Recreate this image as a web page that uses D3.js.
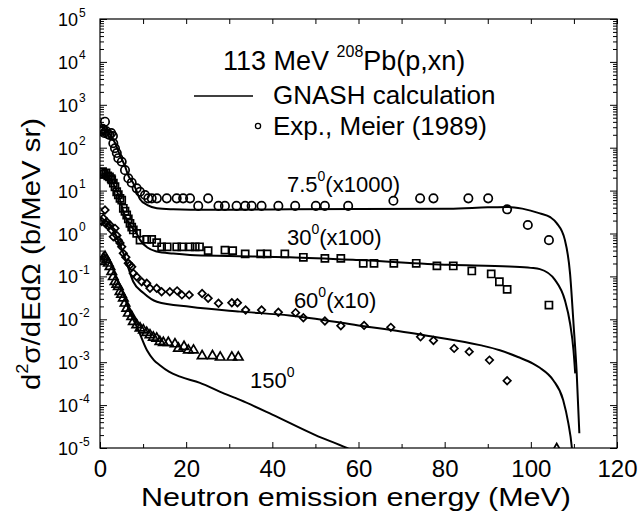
<!DOCTYPE html>
<html>
<head>
<meta charset="utf-8">
<script src="https://cdn.jsdelivr.net/npm/d3@7"></script>
<style>
  body { margin: 0; background: #fff; }
  svg text { font-family: "Liberation Sans", Arial, Helvetica, sans-serif; fill: #000; }
</style>
</head>
<body>
<svg id="chart" width="639" height="514"></svg>
<script>
// ---- Axis ticks ----
const xTicks = [0, 20, 40, 60, 80, 100, 120];
const xMinorTicks = [10, 30, 50, 70, 90, 110];
const yExponents = [-5, -4, -3, -2, -1, 0, 1, 2, 3, 4, 5];

// ---- GNASH calculation: [energy (MeV), d2sigma/dEdOmega (b/MeV sr)] ----
const calc75 = [[0.3,251],[1.5,251],[2.5,190],[3.5,129],[4.6,68],[5.8,37],[6.6,22],[7.7,15.1],[9.3,6.3],[11,4.6],[13.2,3.9],[17,3.67],[21,3.59],[30,3.59],[44,3.67],[60,3.72],[81,3.8],[90,4.07],[94.5,4.17],[98,3.8],[102.1,2.95],[104.5,2.4],[106,1.74],[107.9,0.71],[109.1,0.118],[109.9,0.0081],[110.65,5.5e-4],[111.26,2.2e-5]];
const calc30 = [[0.3,25],[1.5,24],[2.5,18.2],[3.5,12],[4.6,6.3],[5.4,3.3],[7.0,1.58],[8.5,1.0],[9.3,0.71],[11,0.47],[13.2,0.38],[17,0.34],[20.9,0.316],[30,0.30],[44,0.28],[60,0.24],[81,0.186],[95,0.17],[100,0.158],[102.1,0.148],[105.6,0.083],[107.9,0.028],[109.1,0.0081],[109.9,0.0019],[110.3,5.5e-4]];
const calc60 = [[0.3,1.78],[1.5,1.9],[2.5,1.41],[3.5,1.0],[4.6,0.56],[5.4,0.355],[6.5,0.166],[7.7,0.076],[10.1,0.041],[13.2,0.0257],[20.9,0.0195],[32.5,0.0151],[44,0.0123],[60,0.0072],[75,0.0043],[88.2,0.0025],[92.8,0.0019],[97,0.00132],[100.5,9.3e-4],[102.1,7.4e-4],[105.2,3.8e-4],[107.5,1.32e-4],[108.7,3.8e-5],[109.5,1.07e-5],[109.7,6.3e-6]];
const calc150 = [[0.3,0.25],[1.4,0.316],[2.5,0.2],[3.5,0.112],[5.3,0.041],[7,0.0141],[8.6,0.0066],[10.9,0.0019],[12.5,0.00112],[13.9,8.5e-4],[16,6.0e-4],[18.6,4.6e-4],[23.2,3.3e-4],[27.9,2.04e-4],[32.5,1.32e-4],[40,6.0e-5],[50,2.0e-5],[57.3,1.0e-5],[59,8.3e-6]];

// ---- Experimental data, Meier (1989) ----
const exp75 = [[0.3,245],[0.6,275],[0.77,259],[1.0,220],[1.16,404],[1.4,245],[1.8,208],[2.2,198],[2.6,220],[3.0,187],[3.09,127],[3.48,97],[3.9,75],[4.25,57],[5.04,47],[5.8,30],[6.57,19.4],[7.36,15.3],[8.52,11.3],[9.29,9.4],[10.45,7.9],[11.2,6.6],[12.0,6.6],[13.2,6.6],[15.5,6.6],[17.8,6.6],[19.3,6.6],[20.9,6.6],[22.8,4.4],[25.1,6.6],[27.5,4.4],[29.0,4.4],[31.7,4.4],[33.7,4.4],[35.2,4.4],[37.5,4.4],[41.4,4.4],[45.3,4.4],[50.1,4.4],[52.2,4.4],[57.6,4.4],[68.1,5.8],[74.3,6.6],[77.4,6.6],[85.5,6.6],[90.1,6.6],[94.5,3.66],[99.3,1.58],[104.2,0.70]];
const exp30 = [[0.3,25],[0.6,27.6],[1.0,24],[1.4,26],[1.8,22],[2.2,21],[2.6,19],[2.72,17.7],[3.1,15],[3.48,12.3],[3.88,9.4],[4.25,8],[4.64,6.6],[5.04,6.0],[5.41,3.87],[5.8,3.3],[6.2,2.7],[6.57,2.2],[6.96,1.73],[7.36,1.4],[7.73,1.21],[8.52,1.01],[9.29,0.705],[10.84,0.73],[12.0,0.73],[13.16,0.61],[14.3,0.49],[15.6,0.49],[17.8,0.49],[19.0,0.49],[20.9,0.49],[22.1,0.49],[23.1,0.49],[25.1,0.40],[29.0,0.41],[30.8,0.40],[33.7,0.333],[37.3,0.333],[38.8,0.333],[42.9,0.333],[47.2,0.279],[52.2,0.264],[55.9,0.264],[61.1,0.202],[63.6,0.202],[68.2,0.202],[73.4,0.202],[78.2,0.177],[82.0,0.175],[86.3,0.134],[90.8,0.114],[92.7,0.075],[94.5,0.050],[104.2,0.0215]];
const exp60 = [[0.4,1.9],[0.77,2.26],[1.16,3.53],[1.3,1.7],[1.55,1.88],[1.9,1.5],[2.32,1.58],[2.7,1.2],[3.09,0.84],[3.48,1.32],[3.9,0.9],[4.25,0.70],[4.64,0.6],[5.04,0.49],[5.41,0.345],[6.0,0.28],[6.57,0.202],[6.96,0.185],[7.36,0.168],[7.73,0.118],[8.52,0.098],[9.68,0.075],[10.84,0.069],[11.6,0.053],[13.16,0.053],[14.3,0.044],[16.2,0.044],[17.9,0.046],[19.0,0.037],[20.7,0.037],[23.7,0.040],[25.1,0.031],[27.5,0.0236],[30.6,0.0244],[31.9,0.0244],[33.8,0.0165],[37.5,0.0165],[41.4,0.0146],[45.4,0.0143],[47.2,0.0109],[52.2,0.0091],[55.9,0.0071],[61.3,0.0072],[67.5,0.0065],[74.4,0.0039],[77.4,0.0032],[82.2,0.0021],[85.7,0.00176],[90.4,0.00112],[94.5,0.00037]];
const exp150 = [[0.4,0.22],[0.77,0.264],[1.16,0.288],[1.55,0.241],[1.93,0.202],[2.32,0.168],[2.72,0.129],[3.09,0.098],[3.48,0.075],[3.9,0.065],[4.25,0.0575],[4.64,0.044],[5.0,0.038],[5.41,0.031],[5.80,0.0236],[6.20,0.018],[6.57,0.0138],[7.36,0.0115],[7.73,0.0088],[8.52,0.0074],[9.29,0.0062],[10.05,0.0056],[10.84,0.0049],[11.6,0.0043],[12.37,0.0038],[13.16,0.0036],[13.9,0.0030],[14.7,0.00285],[15.85,0.00285],[17.4,0.00265],[18.2,0.0021],[19.5,0.0023],[20.5,0.0019],[21.7,0.0019],[23.7,0.0014],[26.1,0.0014],[27.9,0.0013],[30.6,0.0013],[32.1,0.0013],[106,9.5e-6]];

// ---- Curve annotations: [label base, superscript, suffix, energy, value at baseline] ----
const annotations = [
  ["7.5", "0", "(x1000)", 43.4, 9.3],
  ["30", "0", "(x100)", 43.4, 0.54],
  ["60", "0", "(x10)", 45.0, 0.0183],
  ["150", "0", "", 34.8, 2.5e-4]
];

const W = 639, H = 514;
const margin = { top: 19, right: 22, bottom: 66, left: 100 };
const svg = d3.select("#chart");

const x = d3.scaleLinear().domain([0, 120]).range([margin.left, W - margin.right]);
const y = d3.scaleLog().domain([1e-5, 1e5]).range([H - margin.bottom, margin.top]);

const yMajor = yExponents.map(e => Math.pow(10, e));
const yMinor = [];
yExponents.slice(0, -1).forEach(e => { for (let k = 2; k <= 9; k++) yMinor.push(k * Math.pow(10, e)); });

const plotBottom = H - margin.bottom, plotTop = margin.top;
const plotLeft = margin.left, plotRight = W - margin.right;

// clip for plotted data
svg.append("defs").append("clipPath").attr("id", "plot-clip")
  .append("rect")
  .attr("x", plotLeft).attr("y", plotTop)
  .attr("width", plotRight - plotLeft).attr("height", plotBottom - plotTop);

// ---- Axes (ticks drawn inward on all four sides) ----
const axisStyle = g => {
  g.selectAll(".domain").remove();
  g.selectAll(".tick line").attr("stroke", "#000").attr("stroke-width", 1);
};

svg.append("g").attr("transform", `translate(0,${plotBottom})`)
  .call(d3.axisBottom(x).tickValues(xTicks).tickSize(-6).tickPadding(12).tickFormat(d3.format("d")))
  .call(axisStyle)
  .call(g => g.selectAll(".tick text").attr("font-size", 24).attr("font-family", "Liberation Sans, Arial, sans-serif"));
svg.append("g").attr("transform", `translate(0,${plotBottom})`)
  .call(d3.axisBottom(x).tickValues(xMinorTicks).tickSize(-4).tickFormat(""))
  .call(axisStyle);
svg.append("g").attr("transform", `translate(0,${plotTop})`)
  .call(d3.axisTop(x).tickValues(xTicks.concat(xMinorTicks)).tickSize(-5).tickFormat(""))
  .call(axisStyle);

const yAxisLeft = svg.append("g").attr("transform", `translate(${plotLeft},0)`)
  .call(d3.axisLeft(y).tickValues(yMajor).tickSize(-7).tickFormat(""))
  .call(axisStyle);
svg.append("g").attr("transform", `translate(${plotLeft},0)`)
  .call(d3.axisLeft(y).tickValues(yMinor).tickSize(-4).tickFormat(""))
  .call(axisStyle);
svg.append("g").attr("transform", `translate(${plotRight},0)`)
  .call(d3.axisRight(y).tickValues(yMajor).tickSize(-7).tickFormat(""))
  .call(axisStyle);
svg.append("g").attr("transform", `translate(${plotRight},0)`)
  .call(d3.axisRight(y).tickValues(yMinor).tickSize(-4).tickFormat(""))
  .call(axisStyle);

// power-of-ten labels on the left axis
yAxisLeft.selectAll(".tick").each(function(d) {
  d3.select(this).append("text").attr("x", -22).attr("y", 6.5)
    .attr("text-anchor", "end").attr("font-size", 18).text("10");
  d3.select(this).append("text").attr("x", -21).attr("y", -3)
    .attr("text-anchor", "start").attr("font-size", 12)
    .text(Math.round(Math.log10(d)));
});

// frame
svg.append("rect").attr("x", plotLeft).attr("y", plotTop)
  .attr("width", plotRight - plotLeft).attr("height", plotBottom - plotTop)
  .attr("fill", "none").attr("stroke", "#000").attr("stroke-width", 1.2);

// ---- Calculated spectra ----
const line = d3.line().x(d => x(d[0])).y(d => y(d[1])).curve(d3.curveMonotoneX);
const plot = svg.append("g").attr("clip-path", "url(#plot-clip)");
[calc75, calc30, calc60, calc150].forEach(s => {
  plot.append("path").datum(s).attr("d", line)
    .attr("fill", "none").attr("stroke", "#000").attr("stroke-width", 2);
});

// ---- Experimental points ----
const sym = (type, size) => d3.symbol().type(type).size(size)();
const series = [
  { data: exp75, path: sym(d3.symbolCircle, 55), rot: 0 },
  { data: exp30, path: sym(d3.symbolSquare, 50), rot: 0 },
  { data: exp60, path: sym(d3.symbolSquare, 28), rot: 45 },
  { data: exp150, path: sym(d3.symbolTriangle, 38), rot: 0 }
];
series.forEach(s => {
  plot.append("g").selectAll("path").data(s.data).join("path")
    .attr("d", s.path)
    .attr("transform", d => `translate(${x(d[0])},${y(d[1])}) rotate(${s.rot})`)
    .attr("fill", "none").attr("stroke", "#000").attr("stroke-width", 1.7);
});

// ---- Curve labels ----
annotations.forEach(([base, sup, suffix, e, v]) => {
  const t = svg.append("text").attr("x", x(e)).attr("y", y(v)).attr("font-size", 22);
  t.append("tspan").text(base);
  t.append("tspan").attr("font-size", 14).attr("dy", -11).text(sup);
  t.append("tspan").attr("dy", 11).text(suffix);
});

// ---- Title and legend ----
const title = svg.append("text").attr("x", 223).attr("y", 70).attr("font-size", 27);
title.append("tspan").text("113 MeV ");
title.append("tspan").attr("font-size", 16).attr("dy", -13).text("208");
title.append("tspan").attr("dy", 13).text("Pb(p,xn)");

svg.append("line").attr("x1", 194).attr("x2", 253).attr("y1", 96).attr("y2", 96)
  .attr("stroke", "#000").attr("stroke-width", 1.5);
svg.append("text").attr("x", 273).attr("y", 104).attr("font-size", 26).text("GNASH calculation");
svg.append("circle").attr("cx", 258).attr("cy", 126).attr("r", 2.6)
  .attr("fill", "none").attr("stroke", "#000").attr("stroke-width", 1.3);
svg.append("text").attr("x", 273).attr("y", 135).attr("font-size", 26).text("Exp., Meier (1989)");

// ---- Axis titles ----
svg.append("text").attr("x", 141).attr("y", 506)
  .attr("font-size", 26)
  .attr("textLength", 430).attr("lengthAdjust", "spacingAndGlyphs")
  .text("Neutron emission energy (MeV)");

const yt = svg.append("text")
  .attr("transform", "translate(40,390) rotate(-90)")
  .attr("font-size", 26)
  .attr("textLength", 272).attr("lengthAdjust", "spacingAndGlyphs");
yt.append("tspan").text("d");
yt.append("tspan").attr("font-size", 16).attr("dy", -12).text("2");
yt.append("tspan").attr("dy", 12).text("σ/dEdΩ (b/MeV sr)");
</script>
</body>
</html>
